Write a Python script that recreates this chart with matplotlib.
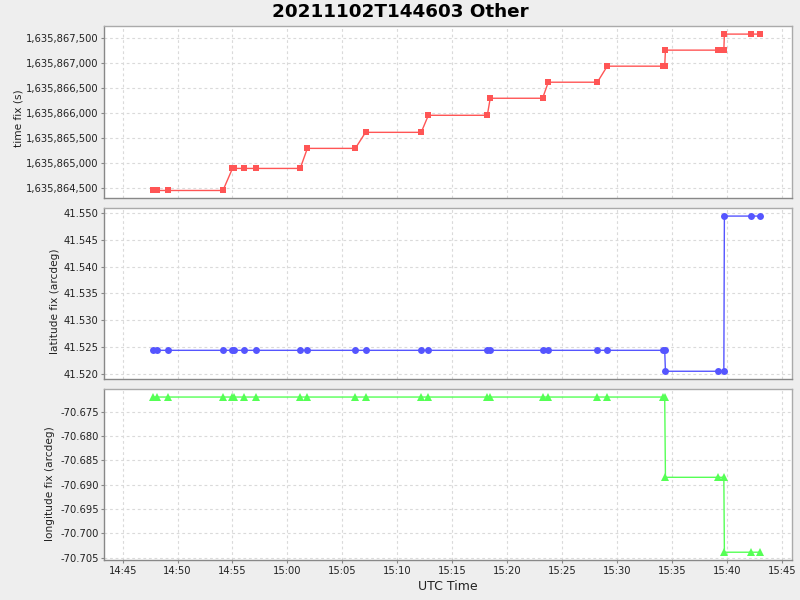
import matplotlib
matplotlib.use("Agg")
import matplotlib.pyplot as plt
import matplotlib.dates as mdates
from matplotlib.ticker import FuncFormatter, MultipleLocator
from datetime import datetime

plt.rcParams['font.family'] = ['DejaVu Sans']

title = "20211102T144603 Other"
utc_times = [
    "14:47:44", "14:48:06", "14:49:09", "14:54:08", "14:55:00", "14:55:08",
    "14:56:04", "14:57:10", "15:01:10", "15:01:49", "15:06:11", "15:07:07",
    "15:12:11", "15:12:50", "15:18:12", "15:18:28", "15:23:14", "15:23:45",
    "15:28:13", "15:29:07", "15:34:13", "15:34:21", "15:34:25", "15:39:14",
    "15:39:44", "15:39:47", "15:42:14", "15:43:03",
]
time_fix = [
    1635864460, 1635864460, 1635864460, 1635864460,
    1635864900, 1635864900, 1635864900, 1635864900, 1635864900,
    1635865300, 1635865300,
    1635865620, 1635865620,
    1635865960, 1635865960,
    1635866300, 1635866300,
    1635866620, 1635866620,
    1635866940, 1635866940, 1635866940,
    1635867260, 1635867260, 1635867260,
    1635867580, 1635867580, 1635867580,
]
latitude = [41.5244] * 22 + [41.5205] * 3 + [41.5494] * 3
longitude = [-70.6720] * 22 + [-70.6885] * 3 + [-70.7039] * 3

x_start = "14:43:20"
x_end = "15:45:55"

def to_dt(s):
    return datetime.strptime("2021-11-02 " + s, "%Y-%m-%d %H:%M:%S")

xs = [to_dt(t) for t in utc_times]

fig = plt.figure(figsize=(8, 6), dpi=100, facecolor="#EEEEEE")
L, W = 0.1304, 0.8593
axes = [
    fig.add_axes([L, 0.6695, W, 0.2867]),
    fig.add_axes([L, 0.3683, W, 0.2845]),
    fig.add_axes([L, 0.0667, W, 0.2845]),
]

series = [
    (time_fix, "#FF5555", "s", 4.7, "time fix (s)", lambda v, p: f"{v:,.0f}", 500, (-0.118, 0.467)),
    (latitude, "#5555FF", "o", 5.0, "latitude fix (arcdeg)", lambda v, p: f"{v:.3f}", 0.005, (-0.0644, 0.455)),
    (longitude, "#55FF55", "^", 6.0, "longitude fix (arcdeg)", lambda v, p: f"{v:.3f}", 0.005, (-0.0717, 0.445)),
]

for ax, (vals, col, mk, ms, lab, fmt, step, lc) in zip(axes, series):
    ax.set_facecolor("white")
    ax.plot(xs, vals, color=col, lw=1.0, marker=mk, markersize=ms,
            markeredgewidth=0, markerfacecolor=col, zorder=3)
    vmin, vmax = min(vals), max(vals)
    m = (vmax - vmin) * 0.05
    ax.set_ylim(vmin - m, vmax + m)
    ax.set_xlim(to_dt(x_start), to_dt(x_end))
    ax.yaxis.set_major_locator(MultipleLocator(step))
    ax.yaxis.set_major_formatter(FuncFormatter(fmt))
    ax.xaxis.set_major_locator(mdates.MinuteLocator(byminute=range(0, 60, 5)))
    ax.xaxis.set_major_formatter(mdates.DateFormatter("%H:%M"))
    ax.grid(True, color="#DADADA", lw=0.8, linestyle=(0, (2.5, 2.5)))
    ax.set_axisbelow(True)
    for s in ax.spines.values():
        s.set_color("#AAAAAA")
        s.set_linewidth(1.0)
    ax.spines['left'].set_color("#888888")
    ax.spines['bottom'].set_color("#888888")
    ax.tick_params(axis="both", length=2, width=0.8, color="#888888",
                   labelsize=7.2, labelcolor="#222222", pad=2)
    ax.set_ylabel(lab, fontsize=7.6, color="#222222")
    ax.yaxis.set_label_coords(lc[0], lc[1])

axes[0].tick_params(axis="x", labelbottom=False, length=0)
axes[1].tick_params(axis="x", labelbottom=False, length=0)
axes[2].set_xlabel("UTC Time", fontsize=9, color="#222222", labelpad=3)

fig.text(0.5, 0.98, title, ha="center", va="center", fontsize=13.2, fontweight="bold", color="black")

fig.savefig("out.png", dpi=100, facecolor=fig.get_facecolor())
